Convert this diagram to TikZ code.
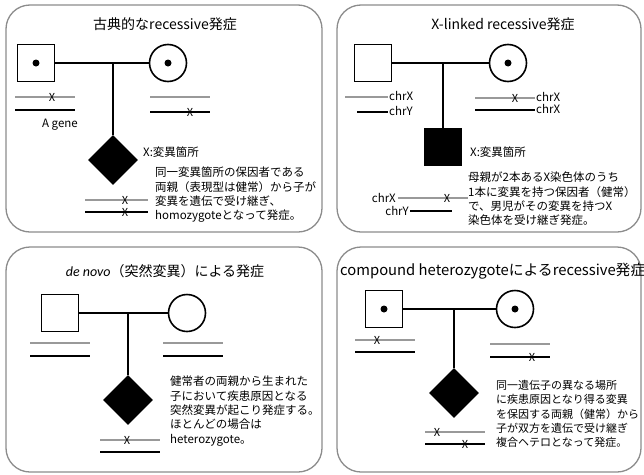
\documentclass[tikz,border=0pt]{standalone}
\usepackage{fontspec}
\setmainfont{Noto Sans CJK JP}
\newfontfamily\carl{Carlito}
\usetikzlibrary{shapes.geometric}
\tikzset{
  panel/.style={draw=black!45, line width=1.3pt, rounded corners=24pt},
  conn/.style={draw=black, line width=1.6pt},
  male/.style={draw=black, line width=1.6pt, rectangle, minimum size=37pt, inner sep=0pt, fill=white},
  female/.style={draw=black, line width=1.6pt, circle, minimum size=37pt, inner sep=0pt, fill=white},
  affd/.style={diamond, fill=black, minimum size=50pt, inner sep=0pt},
  affs/.style={rectangle, fill=black, minimum size=38pt, inner sep=0pt},
  chrg/.style={draw=black!40, line width=1.6pt},
  chrb/.style={draw=black, line width=1.4pt},
  mut/.style={font=\fontsize{11}{11}\selectfont, inner sep=0pt},
  ttl/.style={font=\fontsize{14}{16}\selectfont, inner sep=0pt},
  lbl/.style={font=\fontsize{11.5}{13}\selectfont, inner sep=0pt},
  body/.style={font=\fontsize{11.5}{14.3}\selectfont, align=left, inner sep=0pt, anchor=north west},
}
\begin{document}
\begin{tikzpicture}[x=1pt,y=-1pt]
\useasboundingbox (0,0) rectangle (644,474);
\fill[white] (0,0) rectangle (644,474);

% ---------- Panel 1 ----------
\draw[panel] (6,5) rectangle (322,232);
\node[ttl] (t1) at (165,24) {古典的なrecessive発症};
\coordinate (j1) at (113,63);
\node[affd] (c1) at (113,160) {};
\draw[conn] (j1) -- (c1.north);
\node[male] (f1) at (36,63) {};
\node[female] (m1) at (168,63) {};
\draw[conn] (f1) -- (m1);
\fill (f1.center) circle (3.5);
\fill (m1.center) circle (3.5);
\draw[chrg] (15,97) -- (75,97);
\draw[chrb] (15,110) -- (75,110);
\node[mut] (x1a) at (52,97) {X};
\node[lbl] (ag) at (60,125) {A gene};
\draw[chrg] (150,97) -- (210,97);
\draw[chrb] (150,112) -- (210,112);
\node[mut] (x1b) at (190,112) {X};
\node[lbl, anchor=west] (v1) at (143,152) {X:変異箇所};
\draw[chrg] (85,200) -- (148,200);
\draw[chrb] (85,212) -- (148,212);
\node[mut] (x1c) at (125,200) {X};
\node[mut] (x1d) at (125,212) {X};
\node[body] (b1) at (155,167) {同一変異箇所の保因者である\\両親（表現型は健常）から子が\\変異を遺伝で受け継ぎ、\\homozygoteとなって発症。};

% ---------- Panel 2 ----------
\draw[panel] (337,5) rectangle (641,232);
\node[ttl] (t2) at (503,24) {X-linked recessive発症};
\coordinate (j2) at (443,63);
\node[affs] (c2) at (443,147) {};
\draw[conn] (j2) -- (c2.north);
\node[male] (f2) at (373,63) {};
\node[female] (m2) at (508,63) {};
\draw[conn] (f2) -- (m2);
\fill (m2.center) circle (3.5);
\draw[chrg] (345,97) -- (388,97);
\node[lbl, anchor=west] (f2x) at (389,96) {chrX};
\draw[chrb] (357,112) -- (388,112);
\node[lbl, anchor=west] (f2y) at (389,111) {chrY};
\draw[chrg] (475,98) -- (535,98);
\node[mut] (x2a) at (515,98) {X};
\node[lbl, anchor=west] (m2x) at (536,97) {chrX};
\draw[chrb] (475,110) -- (535,110);
\node[lbl, anchor=west] (m2y) at (536,109) {chrX};
\node[lbl, anchor=west] (v2) at (470,152) {X:変異箇所};
\node[lbl, anchor=east] (c2x) at (396,198) {chrX};
\draw[chrg] (398,198) -- (468,198);
\node[mut] (x2b) at (447,198) {X};
\node[lbl, anchor=east] (c2y) at (409,211) {chrY};
\draw[chrb] (410,211) -- (452,211);
\node[body] (b2) at (468,172) {母親が2本あるX染色体のうち\\1本に変異を持つ保因者（健常）\\で、男児がその変異を持つX\\染色体を受け継ぎ発症。};

% ---------- Panel 3 ----------
\draw[panel] (6,247) rectangle (322,472);
\node[ttl] (t3) at (165,271) {{\carl\itshape de novo}（突然変異）による発症};
\coordinate (j3) at (128,313);
\node[affd] (c3) at (128,400) {};
\draw[conn] (j3) -- (c3.north);
\node[male] (f3) at (60,313) {};
\node[female] (m3) at (187,313) {};
\draw[conn] (f3) -- (m3);
\draw[chrg] (30,343) -- (90,343);
\draw[chrb] (30,356) -- (90,356);
\draw[chrg] (163,343) -- (223,343);
\draw[chrb] (163,356) -- (223,356);
\draw[chrg] (100,440) -- (160,440);
\draw[chrb] (100,452) -- (160,452);
\node[mut] (x3a) at (127,440) {X};
\node[body] (b3) at (170,376) {健常者の両親から生まれた\\子において疾患原因となる\\突然変異が起こり発症する。\\ほとんどの場合は\\heterozygote。};

% ---------- Panel 4 ----------
\draw[panel] (337,247) rectangle (641,472);
\node[ttl, anchor=west, font=\fontsize{14.8}{16}\selectfont] (t4) at (340,271) {compound heterozygoteによるrecessive発症};
\coordinate (j4) at (454,309);
\node[affd] (c4) at (454,393) {};
\draw[conn] (j4) -- (c4.north);
\node[male] (f4) at (384,309) {};
\node[female] (m4) at (515,309) {};
\draw[conn] (f4) -- (m4);
\fill (f4.center) circle (3.5);
\fill (m4.center) circle (3.5);
\draw[chrg] (355,340) -- (415,340);
\draw[chrb] (355,352) -- (415,352);
\node[mut] (x4a) at (377,340) {X};
\draw[chrg] (490,344) -- (550,344);
\draw[chrb] (490,357) -- (550,357);
\node[mut] (x4b) at (532,357) {X};
\draw[chrg] (425,432) -- (485,432);
\draw[chrb] (425,444) -- (485,444);
\node[mut] (x4c) at (437,432) {X};
\node[mut] (x4d) at (465,444) {X};
\node[body, font=\fontsize{11}{14.3}\selectfont] (b4) at (496,380) {同一遺伝子の異なる場所\\に疾患原因となり得る変異\\を保因する両親（健常）から\\子が双方を遺伝で受け継ぎ\\複合ヘテロとなって発症。};
\end{tikzpicture}
\end{document}
